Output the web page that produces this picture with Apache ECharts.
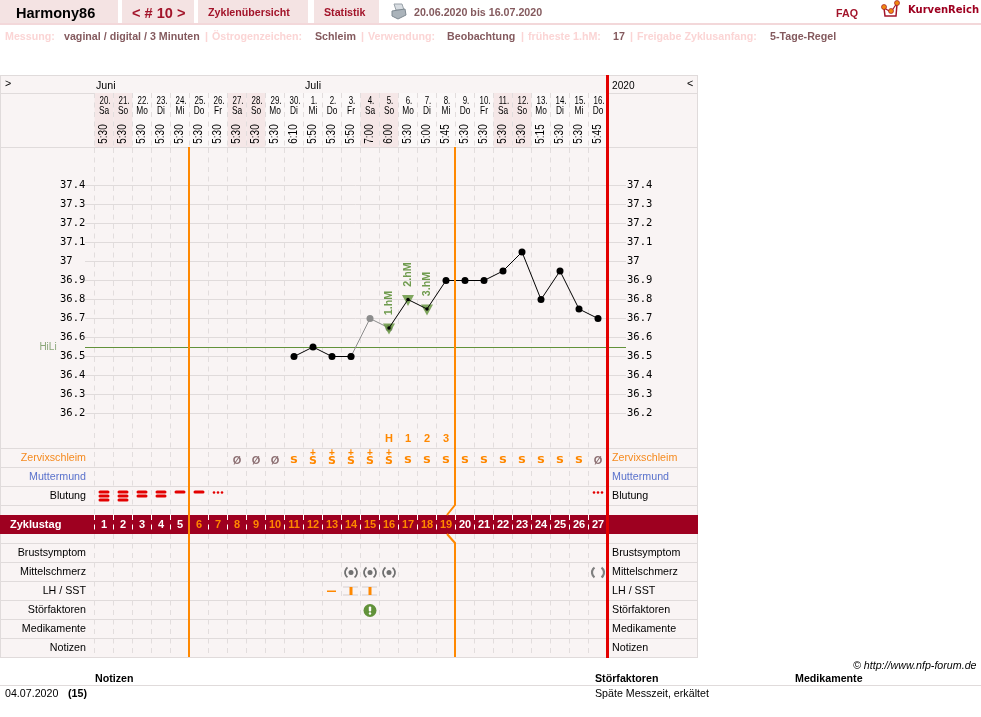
<!DOCTYPE html>
<html>
<head>
<meta charset="utf-8">
<title>Harmony86 – Zyklus 10</title>
<style>html,body{margin:0;padding:0;background:#fff}#chart{width:981px;height:717px}</style>
<script src="https://cdn.jsdelivr.net/npm/echarts@6/dist/echarts.min.js"></script>
</head>
<body>
<div id="chart"></div>
<script>
// Cycle data, one entry per cycle day
const cycleDays = ['1','2','3','4','5','6','7','8','9','10','11','12','13','14','15','16','17','18','19','20','21','22','23','24','25','26','27'];
const dates = ['20.','21.','22.','23.','24.','25.','26.','27.','28.','29.','30.','1.','2.','3.','4.','5.','6.','7.','8.','9.','10.','11.','12.','13.','14.','15.','16.'];
const weekdays = ['Sa','So','Mo','Di','Mi','Do','Fr','Sa','So','Mo','Di','Mi','Do','Fr','Sa','So','Mo','Di','Mi','Do','Fr','Sa','So','Mo','Di','Mi','Do'];
const times = ['5:30','5:30','5:30','5:30','5:30','5:30','5:30','5:30','5:30','5:30','6:10','5:50','5:30','5:50','7:00','6:00','5:30','5:00','5:45','5:30','5:30','5:30','5:30','5:15','5:30','5:30','5:45'];
const temps = [null,null,null,null,null,null,null,null,null,null,36.5,36.55,36.5,36.5,36.7,36.65,36.8,36.75,36.9,36.9,36.9,36.95,37.05,36.8,36.95,36.75,36.7];
const excludedDay = 14;               // index of the measurement set aside (late reading, cold)
const highMarks = [[15,'1.hM'],[16,'2.hM'],[17,'3.hM']];
const peakLabels = [null,null,null,null,null,null,null,null,null,null,null,null,null,null,null,'H','1','2','3',null,null,null,null,null,null,null,null];
const mucus = ['','','','','','','','Ø','Ø','Ø','S','S+','S+','S+','S+','S+','S','S','S','S','S','S','S','S','S','S','Ø'];
const bleeding = [3,3,2,2,1,1,0,null,null,null,null,null,null,null,null,null,null,null,null,null,null,null,null,null,null,null,0];
const midPain = [null,null,null,null,null,null,null,null,null,null,null,null,null,'(•)','(•)','(•)',null,null,null,null,null,null,null,null,null,null,'( )'];
const lhSst = [null,null,null,null,null,null,null,null,null,null,null,null,'-','I','I',null,null,null,null,null,null,null,null,null,null,null,null];
const disturbance = [null,null,null,null,null,null,null,null,null,null,null,null,null,null,'!',null,null,null,null,null,null,null,null,null,null,null,null];
const coverLine = 36.55;
const fertileFirstEnd = 4;            // last infertile day at the start of the cycle (index)
const fertileLastEnd = 18;            // last day of the fertile window (index)
const lightFromDay = 5, lightToDay = 18;
const rowsUpper = ['','Zervixschleim','Muttermund','Blutung'];
const rowsLower = ['Brustsymptom','Mittelschmerz','LH / SST','Störfaktoren','Medikamente','Notizen'];
const rowColors = {Zervixschleim:'#f58a1f',Muttermund:'#5a72cc'};
const tempMin = 36.2, tempMax = 37.4, tempStep = 0.1;

const SANS = '"Liberation Sans", Arial, sans-serif';
const MONO = '"DejaVu Sans Mono", monospace';
const ORANGE = '#ff8800', RED = '#e30000', CRIMSON = '#9e0020', WINE = '#a2142a';
const RULE = '#e0dbdb', PANEL = '#f9f4f4', GREEN = '#62923a', BROWN = '#845a5e', PINK = '#fbd5d5', TAB = '#f4e3e3';

const COL = 19, LEFT = 94.5, WIDTH = COL * 27;

/* ---- static page furniture ---- */
const txt = (text, x, y, font, fill, scaleX) => ({
  type:'text', x, y, z:100, silent:true, scaleX:scaleX === undefined ? 0.97 : scaleX,
  style:{text, font, fill:fill || '#000', align:'left', verticalAlign:'middle'}
});
const box = (x, y, w, h, fill, z) => ({type:'rect', z:z === undefined ? -100 : z, silent:true, shape:{x,y,width:w,height:h}, style:{fill}});

const ruleRows = [75,93,147,448,467,486,505,543,562,581,600,619,638,657];
const graphics = [
  box(0,75,698,583,PANEL,-110),
  box(0,75,1,583,RULE), box(697,75,1,583,RULE),
  ...ruleRows.map(y => box(0,y,698,1,RULE,-90)),
  box(0,515,698,19,CRIMSON,-80),
  box(606,75,3,583,RED,60),

  box(0,0,118,23,TAB), box(122,0,72,23,TAB), box(198,0,110,23,TAB), box(314,0,65,23,TAB),
  box(0,23,981,2,'#f3d8da'),
  txt('Harmony86',16,14,'bold 15px '+SANS,'#000'),
  txt('< # 10 >',132,14,'bold 15px '+SANS,WINE),
  txt('Zyklenübersicht',208,13,'bold 11px '+SANS,WINE),
  txt('Statistik',324,13,'bold 11px '+SANS,WINE),
  txt('20.06.2020 bis 16.07.2020',414,13,'bold 11px '+SANS,BROWN),
  txt('FAQ',836,14,'bold 11px '+SANS,WINE),
  txt('KurvenReich',908,10,'bold 10px "DejaVu Sans"',CRIMSON,1),

  // printer icon
  {type:'polygon',z:50,silent:true,shape:{points:[[394,4],[402,4],[404,10],[396,10]]},style:{fill:'#d8dde2',stroke:'#9aa3aa',lineWidth:1}},
  {type:'polygon',z:50,silent:true,shape:{points:[[392,11],[405,9],[406,15],[398,19],[392,16]]},style:{fill:'#aab3ba',stroke:'#7f8a92',lineWidth:1}},
  // logo
  {type:'polyline',z:50,silent:true,shape:{points:[[884,8],[885,16],[896,16],[897,4]]},style:{fill:'none',stroke:WINE,lineWidth:1.5}},
  {type:'polyline',z:50,silent:true,shape:{points:[[884,8],[891,12],[897,3]]},style:{fill:'none',stroke:WINE,lineWidth:1.2}},
  ...[[884,7],[891,11],[897,3]].map(([cx,cy]) => ({type:'circle',z:51,silent:true,shape:{cx,cy,r:2.5},style:{fill:'#f08a10',stroke:WINE,lineWidth:.7}})),

  // measuring rules line
  ...[['Messung:',5,PINK],['vaginal / digital / 3 Minuten',64,BROWN],['|',205,PINK],['Östrogenzeichen:',212,PINK],['Schleim',315,BROWN],
      ['|',361,PINK],['Verwendung:',368,PINK],['Beobachtung',447,BROWN],['|',521,PINK],['früheste 1.hM:',528,PINK],['17',613,BROWN],
      ['|',630,PINK],['Freigabe Zyklusanfang:',637,PINK],['5-Tage-Regel',770,BROWN]]
    .map(([t,x,c]) => txt(t,x,37,'bold 11px '+SANS,c)),

  // month row
  txt('>',5,84,'11px '+SANS), txt('Juni',96,86,'11px '+SANS), txt('Juli',305,86,'11px '+SANS),
  txt('2020',612,86,'11px '+SANS,'#000',0.92), txt('<',687,84,'11px '+SANS),

  // footer table
  txt('© http://www.nfp-forum.de',853,666,'italic 11px '+SANS),
  txt('Notizen',95,679,'bold 11px '+SANS), txt('Störfaktoren',595,679,'bold 11px '+SANS), txt('Medikamente',795,679,'bold 11px '+SANS),
  box(0,685,981,1,RULE),
  txt('04.07.2020',5,694,'11px '+SANS), txt('(15)',68,694,'bold 11px '+SANS), txt('Späte Messzeit, erkältet',595,694,'11px '+SANS)
];

/* ---- axes ---- */
const dashed = color => ({show:true, interval:0, lineStyle:{color, type:[5,4.5], width:1}});
const grid = (top, height, left, width) => ({top, height, left:left === undefined ? LEFT : left, width:width === undefined ? WIDTH : width, containLabel:false});
const dayAxis = (gridIndex, splitColor) => ({
  type:'category', gridIndex, data:cycleDays, boundaryGap:true,
  axisLine:{show:false}, axisTick:{show:false}, axisLabel:{show:false},
  splitLine:splitColor ? dashed(splitColor) : {show:false}
});
const plainY = (gridIndex, min, max, inverse) => ({
  type:'value', gridIndex, min, max, inverse:!!inverse,
  axisLine:{show:false}, axisTick:{show:false}, axisLabel:{show:false}, splitLine:{show:false}
});
const rowAxis = (gridIndex, rows, position) => ({
  type:'category', gridIndex, data:rows, inverse:true, position,
  axisLine:{show:false}, axisTick:{show:false}, splitLine:{show:false},
  axisLabel:{
    show:true, interval:0, fontSize:10.7, fontFamily:SANS,
    align:position === 'left' ? 'right' : 'left', margin:position === 'left' ? 8.5 : 4.5,
    color:v => rowColors[v] || '#000'
  }
});
const tempAxis = position => ({
  type:'value', gridIndex:4, min:tempMin, max:tempMax, interval:tempStep, position,
  axisLine:{show:false}, axisTick:{show:false},
  splitLine:{show:position === 'left', lineStyle:{color:RULE, width:1}},
  axisLabel:{
    show:true, fontSize:10.5, fontFamily:MONO, color:'#000', align:'left',
    margin:position === 'left' ? 25 : 1, formatter:v => String(+v.toFixed(1))
  }
});

const G = {head:0, colsUp:1, band:2, colsLow:3, tempAxes:4, plot:5, rowsUp:6, rowsLow:7};
const grids = [grid(93,54), grid(148,367), grid(515,19), grid(534,123), grid(185.5,228,85,541), grid(185.5,228), grid(430,76), grid(544,114)];
const xAxes = [
  dayAxis(G.head,'#e2dddd'), dayAxis(G.colsUp,'#e2dddd'), dayAxis(G.band,'#ffffff'), dayAxis(G.colsLow,'#e2dddd'),
  {type:'value', gridIndex:G.tempAxes, min:0, max:1, axisLine:{show:false}, axisTick:{show:false}, axisLabel:{show:false}, splitLine:{show:false}},
  dayAxis(G.plot), dayAxis(G.rowsUp), dayAxis(G.rowsLow)
];
const yAxes = [
  plainY(G.head,0,54,true),                 // 0
  plainY(G.colsUp,0,367,true),              // 1
  {type:'category', gridIndex:G.band, data:['Zyklustag'], inverse:true, axisLine:{show:false}, axisTick:{show:false},
   axisLabel:{show:true, color:'#fff', fontSize:11, fontWeight:'bold', fontFamily:SANS, align:'left', margin:84.5}},   // 2
  plainY(G.colsLow,0,123,true),             // 3
  tempAxis('left'),                         // 4
  tempAxis('right'),                        // 5
  {type:'value', gridIndex:G.plot, min:tempMin, max:tempMax, axisLine:{show:false}, axisTick:{show:false}, axisLabel:{show:false}, splitLine:{show:false}}, // 6
  rowAxis(G.rowsUp,rowsUpper,'left'),       // 7
  rowAxis(G.rowsUp,rowsUpper,'right'),      // 8
  rowAxis(G.rowsLow,rowsLower,'left'),      // 9
  rowAxis(G.rowsLow,rowsLower,'right')      // 10
];

/* ---- mark helpers ---- */
const textEl = (text, x, y, font, fill, extra) => Object.assign({
  type:'text', x, y, style:{text, font, fill, align:'center', verticalAlign:'middle'}
}, extra);

// Custom series that places one glyph per day on a row of its grid
function rowMarks(xIdx, yIdx, rowValue, values, draw, z) {
  return {
    type:'custom', xAxisIndex:xIdx, yAxisIndex:yIdx, z:z || 5, clip:false, silent:true,
    data:values.map((v,i) => [i, rowValue]),
    renderItem:(p, api) => {
      const v = values[p.dataIndex];
      if (v === null || v === undefined || v === '') return null;
      const c = api.coord([p.dataIndex, rowValue]);
      return draw(v, c[0], c[1], p.dataIndex);
    }
  };
}
const keep = (from, to) => temps.map((v,i) => (i >= from && i <= to ? v : null));
const highIdx = highMarks.map(m => m[0]);

const bloodBars = (v, x, y) => {
  if (v === 0) return {type:'group', children:[-4,0,4].map(dx => ({type:'circle', shape:{cx:x+dx, cy:y-4, r:1.3}, style:{fill:RED}}))};
  const rows = [];
  for (let k = 0; k < v; k++) rows.push({type:'rect', shape:{x:x-5.5, y:y-6+k*4, width:11, height:3, r:1.5}, style:{fill:RED}});
  return {type:'group', children:rows};
};
const painMark = (v, x, y) => {
  const withDot = v === '(•)';
  const r = 6, w = withDot ? 1.8 : 2.2, color = withDot ? '#707070' : '#808080';
  const arc = (a, b) => ({type:'arc', shape:{cx:x, cy:y, r, startAngle:a, endAngle:b}, style:{stroke:color, lineWidth:w, fill:'none'}});
  const parts = [arc(2.2,4.1), arc(-0.95,0.95)];
  if (withDot) parts.push({type:'circle', shape:{cx:x, cy:y, r:2.5}, style:{fill:'#707070'}});
  return {type:'group', children:parts};
};
const sstMark = (v, x, y) => {
  if (v === '-') return {type:'rect', shape:{x:x-5, y:y-1, width:9, height:1.5}, style:{fill:ORANGE}};
  return {type:'group', children:[
    {type:'rect', shape:{x:x-8, y:y-5, width:15, height:1}, style:{fill:'#d4cfcf'}},
    {type:'rect', shape:{x:x-8, y:y+3, width:15, height:1}, style:{fill:'#d4cfcf'}},
    {type:'rect', shape:{x:x-1.5, y:y-4.5, width:3, height:8}, style:{fill:ORANGE}}
  ]};
};
const disturbMark = (v, x, y) => ({type:'group', children:[
  {type:'circle', shape:{cx:x, cy:y, r:6.5}, style:{fill:GREEN}},
  {type:'rect', shape:{x:x-1.2, y:y-4, width:2.4, height:5, r:1}, style:{fill:'#fff'}},
  {type:'circle', shape:{cx:x, cy:y+3, r:1.2}, style:{fill:'#fff'}}
]});
const mucusMark = (v, x, y) => {
  if (v === 'Ø') return textEl('Ø', x, y+2.5, 'bold 11px '+SANS, '#8c6f72');
  if (v === 'S') return textEl('S', x, y+2.5, 'bold 11px "DejaVu Sans"', ORANGE, {scaleY:0.72});
  return {type:'group', children:[
    textEl('S', x, y+2.5, 'bold 11px "DejaVu Sans"', ORANGE, {scaleY:0.88}),
    textEl('+', x, y-5.5, 'bold 10px '+SANS, ORANGE)
  ]};
};

/* ---- series ---- */
const series = [
  // weekend shading and date header
  {type:'bar', xAxisIndex:G.head, yAxisIndex:0, barWidth:COL, z:-1, silent:true,
   data:weekdays.map(d => ({value:54, itemStyle:{color:(d === 'Sa' || d === 'So') ? '#f5e7e7' : '#fbf8f8'}}))},
  rowMarks(G.head,0,8,dates,(v,x,y) => textEl(v,x+1,y,'11px '+SANS,'#000',{scaleX:0.72})),
  rowMarks(G.head,0,18,weekdays,(v,x,y) => textEl(v,x,y,'11px '+SANS,'#000',{scaleX:0.76})),
  rowMarks(G.head,0,41,times,(v,x,y) => textEl(v,x,y,'12px '+SANS,'#000',{rotation:Math.PI/2, scaleX:0.83})),

  // fertile window boundaries, cut around the cycle-day band
  {type:'custom', xAxisIndex:G.colsUp, yAxisIndex:1, z:20, clip:false, silent:true,
   data:[[fertileFirstEnd,0],[fertileLastEnd,0]],
   renderItem:(p, api) => {
     const x = api.coord([api.value(0),0])[0] + api.size([1,0])[0]/2 - 0.5;
     const stroke = {stroke:ORANGE, lineWidth:2, fill:'none'};
     if (p.dataIndex === 0) return {type:'polyline', shape:{points:[[x,147],[x,657]]}, style:stroke};
     return {type:'group', children:[
       {type:'polyline', shape:{points:[[x,147],[x,505],[x-8,515]]}, style:stroke},
       {type:'polyline', shape:{points:[[x-8,534],[x,543],[x,657]]}, style:stroke}
     ]};
   }},

  // cover line with its caption, snapped to a whole pixel row
  {type:'custom', xAxisIndex:G.tempAxes, yAxisIndex:4, z:4, clip:false, silent:true, data:[[0,coverLine]],
   renderItem:(p, api) => {
     const a = api.coord([0,coverLine]), b = api.coord([1,coverLine]);
     const y = Math.floor(a[1]) + 0.5;
     return {type:'group', children:[
       {type:'polyline', shape:{points:[[a[0],y],[b[0],y]]}, style:{stroke:GREEN, lineWidth:1, fill:'none'}},
       textEl('HiLi', a[0]-37, a[1], '10px '+SANS, '#8aa678')
     ]};
   }},

  // set-aside reading, then the curve on top of it
  {type:'line', xAxisIndex:G.plot, yAxisIndex:6, z:6, silent:true, data:keep(excludedDay-1,excludedDay+1), connectNulls:false,
   symbol:'circle', symbolSize:7, lineStyle:{color:'#8c8c8c', width:1}, itemStyle:{color:'#8c8c8c'}, animation:false},
  {type:'scatter', xAxisIndex:G.plot, yAxisIndex:6, z:7, silent:true, symbol:'triangle', symbolRotate:180, symbolSize:[12,11], symbolOffset:[0,1],
   itemStyle:{color:GREEN}, data:highIdx.map(i => [i,temps[i]])},
  ...[[10,excludedDay-1],[excludedDay+1,26]].map(([a,b]) => ({
    type:'line', xAxisIndex:G.plot, yAxisIndex:6, z:8, silent:true, data:keep(a,b),
    symbol:'circle', symbolSize:(v,p) => highIdx.includes(p.dataIndex) ? 3.5 : 7,
    lineStyle:{color:'#000', width:1}, itemStyle:{color:'#000'}, animation:false
  })),
  {type:'custom', xAxisIndex:G.plot, yAxisIndex:6, z:9, clip:false, silent:true,
   data:highMarks.map(m => [m[0],temps[m[0]]]),
   renderItem:(p, api) => {
     const c = api.coord([api.value(0),api.value(1)]);
     return textEl(highMarks[p.dataIndex][1], c[0], c[1]-25, 'bold 11px '+SANS, '#6f9b4e', {rotation:Math.PI/2, scaleX:0.97});
   }},

  // observation rows
  rowMarks(G.rowsUp,7,0,peakLabels,(v,x,y) => textEl(v,x,y-1,'bold 11px '+SANS,ORANGE)),
  rowMarks(G.rowsUp,7,1,mucus,mucusMark),
  rowMarks(G.rowsUp,7,3,bleeding,bloodBars),
  rowMarks(G.band,2,0,cycleDays,(v,x,y,i) => textEl(v,x,y,'bold 11px '+SANS,(i >= lightFromDay && i <= lightToDay) ? ORANGE : '#fff')),
  rowMarks(G.rowsLow,9,1,midPain,painMark),
  rowMarks(G.rowsLow,9,2,lhSst,sstMark),
  rowMarks(G.rowsLow,9,3,disturbance,disturbMark)
];

const chart = echarts.init(document.getElementById('chart'), null, {renderer:'canvas'});
chart.setOption({
  animation:false,
  backgroundColor:'#fff',
  grid:grids, xAxis:xAxes, yAxis:yAxes, series,
  graphic:{elements:graphics}
});
</script>
</body>
</html>
